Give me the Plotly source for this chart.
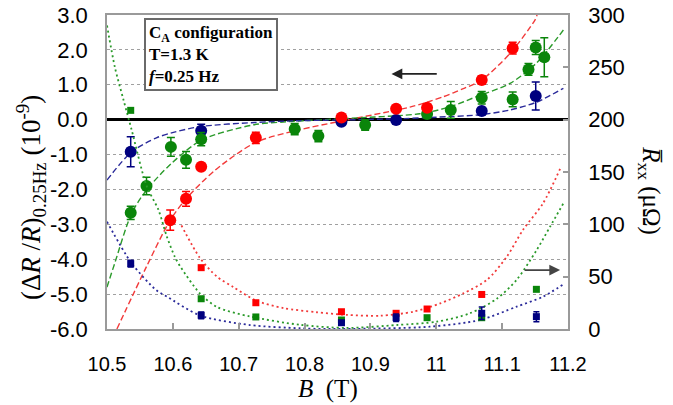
import plotly.graph_objects as go

# ---------------- data ----------------
# Left axis: (dR/R)_0.25Hz  [1e-9], circles with error bars
B_red_c = [10.596, 10.620, 10.643, 10.726, 10.856, 10.939, 10.986, 11.069, 11.116]
dRR_red = [-2.88, -2.27, -1.35, -0.52, 0.06, 0.31, 0.34, 1.14, 2.05]
err_red = [0.29, 0.21, 0.05, 0.16, 0.05, 0.05, 0.05, 0.12, 0.17]

B_green_c = [10.536, 10.560, 10.597, 10.620, 10.643, 10.785, 10.821, 10.892,
             10.986, 11.022, 11.069, 11.116, 11.140, 11.151, 11.164]
dRR_green = [-2.67, -1.90, -0.78, -1.15, -0.56, -0.27, -0.47, -0.15,
             0.16, 0.28, 0.63, 0.58, 1.44, 2.07, 1.79]
err_green = [0.19, 0.25, 0.27, 0.24, 0.19, 0.16, 0.16, 0.15,
             0.05, 0.24, 0.18, 0.21, 0.17, 0.20, 0.56]

B_navy_c = [10.536, 10.643, 10.856, 10.939, 11.069, 11.151]
dRR_navy = [-0.92, -0.32, -0.06, -0.01, 0.25, 0.68]
err_navy = [0.43, 0.19, 0.05, 0.05, 0.08, 0.40]

# Right axis: mean Rxx [uOhm], squares
B_red_s = [10.643, 10.726, 10.856, 10.939, 10.986, 11.069]
Rxx_red = [58.6, 25.1, 16.5, 15.0, 19.1, 33.0]
B_green_s = [10.536, 10.643, 10.726, 10.856, 10.986, 11.069, 11.152]
Rxx_green = [208.9, 28.9, 11.5, 8.6, 10.8, 10.8, 37.9]
B_navy_s = [10.536, 10.643, 10.856, 10.939, 11.069, 11.152]
Rxx_navy = [62.4, 13.1, 6.0, 10.8, 15.0, 11.8]
err_navy_s = [3.2, 3.2, 2.0, 3.6, 5.9, 4.8]

# Curves (dashed: left axis, dotted: right axis)
Bc_red_dash = [10.515, 10.560, 10.596, 10.620, 10.664, 10.726, 10.790, 10.856,
               10.920, 10.960, 10.986, 11.011, 11.040, 11.069, 11.112, 11.150, 11.153]
vc_red_dash = [-6.0, -4.21, -2.88, -2.27, -1.45, -0.65, -0.30, -0.04,
               0.20, 0.36, 0.50, 0.66, 0.88, 1.14, 1.90, 2.86, 3.0]

Bc_green_dash = [10.500, 10.512, 10.5375, 10.560, 10.598, 10.644, 10.722, 10.773,
                 10.869, 10.975, 11.021, 11.061, 11.112, 11.152, 11.193]
vc_green_dash = [-4.80, -4.10, -2.68, -2.02, -1.25, -0.58, -0.15, -0.06,
                 0.04, 0.17, 0.37, 0.66, 1.04, 1.62, 2.57]

Bc_navy_dash = [10.500, 10.5375, 10.575, 10.598, 10.641, 10.725, 10.790, 10.850,
                10.950, 11.000, 11.066, 11.110, 11.152, 11.193]
vc_navy_dash = [-1.73, -0.92, -0.52, -0.38, -0.20, -0.08, -0.03, -0.01,
                0.03, 0.07, 0.14, 0.27, 0.50, 0.90]

Bc_red_dot = [10.613, 10.641, 10.667, 10.692, 10.727, 10.768, 10.818, 10.864,
              10.915, 10.965, 11.006, 11.041, 11.077, 11.107, 11.132, 11.162, 11.188]
rc_red_dot = [99, 68, 50, 40, 27, 20, 16, 13.5,
              12.7, 16.5, 24.5, 34, 47, 69, 95, 120, 153]

Bc_green_dot = [10.500, 10.512, 10.525, 10.5375, 10.560, 10.578, 10.591, 10.603,
                10.611, 10.641, 10.667, 10.717, 10.793, 10.864, 10.940, 11.001,
                11.051, 11.092, 11.122, 11.152, 11.173, 11.193]
rc_green_dot = [290, 250, 219, 190, 137, 114, 88, 69,
                60, 34, 21, 12, 4, 1, 3.8, 7,
                15, 29, 47, 75, 98, 120]

Bc_navy_dot = [10.500, 10.5375, 10.575, 10.591, 10.641, 10.717, 10.793, 10.839,
               10.990, 11.066, 11.122, 11.162, 11.193]
rc_navy_dot = [102.5, 62.8, 37, 31, 13, 3.8, 0.7, 0,
               2.2, 8.6, 21.3, 30.9, 42.7]

x_ticks = [10.5, 10.6, 10.7, 10.8, 10.9, 11.0, 11.1, 11.2]
x_ticktext = ["10.5", "10.6", "10.7", "10.8", "10.9", "11", "11.1", "11.2"]
yl_ticks = [-6, -5, -4, -3, -2, -1, 0, 1, 2, 3]
yl_ticktext = ["-6.0", "-5.0", "-4.0", "-3.0", "-2.0", "-1.0", "0.0", "1.0", "2.0", "3.0"]
yr_ticks = [0, 50, 100, 150, 200, 250, 300]
yr_ticktext = ["0", "50", "100", "150", "200", "250", "300"]

# ---------------- styling ----------------
RED, GREEN, NAVY = "#ff0000", "#0a850a", "#00007f"
RED_L, GREEN_L, NAVY_L = "#f23a3a", "#2a9a2a", "#2a2a9a"
DASH = "6px,3px"
DOT = "2px,3px"

fig = go.Figure()

# dotted curves (right axis)
for Bx, ry, col in [(Bc_red_dot, rc_red_dot, RED_L),
                    (Bc_green_dot, rc_green_dot, GREEN_L),
                    (Bc_navy_dot, rc_navy_dot, NAVY_L)]:
    fig.add_trace(go.Scatter(x=Bx, y=ry, mode="lines", yaxis="y2",
                             line=dict(color=col, width=1.8, dash=DOT, shape="spline", smoothing=0.8),
                             hoverinfo="skip", showlegend=False))

# dashed curves (left axis)
for Bx, vy, col in [(Bc_red_dash, vc_red_dash, RED_L),
                    (Bc_green_dash, vc_green_dash, GREEN_L),
                    (Bc_navy_dash, vc_navy_dash, NAVY_L)]:
    fig.add_trace(go.Scatter(x=Bx, y=vy, mode="lines",
                             line=dict(color=col, width=1.4, dash=DASH, shape="spline", smoothing=0.8),
                             hoverinfo="skip", showlegend=False))

# squares (right axis)
fig.add_trace(go.Scatter(x=B_red_s, y=Rxx_red, mode="markers", yaxis="y2",
                         marker=dict(symbol="square", size=7, color=RED), showlegend=False))
fig.add_trace(go.Scatter(x=B_green_s, y=Rxx_green, mode="markers", yaxis="y2",
                         marker=dict(symbol="square", size=7, color=GREEN), showlegend=False))
fig.add_trace(go.Scatter(x=B_navy_s, y=Rxx_navy, mode="markers", yaxis="y2",
                         marker=dict(symbol="square", size=7, color=NAVY),
                         error_y=dict(type="data", array=err_navy_s, color=NAVY, thickness=1.5, width=3),
                         showlegend=False))

# circles (left axis)
for Bx, vy, ey, col in [(B_navy_c, dRR_navy, err_navy, NAVY),
                        (B_green_c, dRR_green, err_green, GREEN),
                        (B_red_c, dRR_red, err_red, RED)]:
    fig.add_trace(go.Scatter(x=Bx, y=vy, mode="markers",
                             marker=dict(symbol="circle", size=12, color=col),
                             error_y=dict(type="data", array=ey, color=col, thickness=1.5, width=4),
                             showlegend=False))

YTICKFONT = dict(family="Liberation Sans, Arial, sans-serif", size=22, color="black")
XTICKFONT = dict(family="Liberation Sans, Arial, sans-serif", size=20, color="black")
SERIF = "Liberation Serif, Times New Roman, serif"
AXC = "#9a9a9a"

fig.update_layout(
    width=673, height=405, autosize=False,
    margin=dict(l=107, r=105, t=15, b=76),
    plot_bgcolor="white", paper_bgcolor="white",
    showlegend=False,
    xaxis=dict(range=[10.5, 11.2], tickvals=x_ticks, ticktext=x_ticktext,
               ticks="inside", ticklen=6, tickcolor=AXC, tickwidth=1.5,
               showline=True, linecolor=AXC, linewidth=1.5, mirror=True,
               showgrid=False, zeroline=False, tickfont=XTICKFONT,
               ticklabelstandoff=16, automargin=False),
    yaxis=dict(range=[-6, 3], tickvals=yl_ticks, ticktext=yl_ticktext,
               ticks="", showline=True, linecolor=AXC, linewidth=1.5,
               showgrid=True, gridcolor="#a0a0a0", gridwidth=1, griddash="dot",
               zeroline=True, zerolinecolor="black", zerolinewidth=2.5,
               tickfont=YTICKFONT, ticklabelstandoff=13, automargin=False),
    yaxis2=dict(range=[0, 300], tickvals=yr_ticks, ticktext=yr_ticktext,
                overlaying="y", side="right", ticks="inside", ticklen=5,
                tickcolor=AXC, tickwidth=1.5, showline=True, linecolor=AXC, linewidth=1.5,
                showgrid=False, zeroline=False, tickfont=YTICKFONT, ticklabelstandoff=14,
                automargin=False),
)

annotations = [
    # info box
    dict(xref="paper", yref="paper", x=0.080, y=0.99, xanchor="left", yanchor="top",
         text="<b>C<sub>A</sub> configuration<br>T=1.3 K<br><i>f</i>=0.25 Hz</b>",
         align="left", showarrow=False,
         font=dict(family=SERIF, size=17, color="black"),
         bgcolor="white", bordercolor="#6a6a6a", borderwidth=2, borderpad=3),
    # axis titles
    dict(xref="paper", yref="paper", x=0.48, y=-0.19, xanchor="center", yanchor="middle",
         text="<i>B</i>  (T)", showarrow=False,
         font=dict(family=SERIF, size=25, color="black")),
    dict(xref="paper", yref="paper", x=-0.165, y=0.42, xanchor="center", yanchor="middle",
         text="(Δ<i>R</i> /<i>R</i>)<sub>0.25Hz</sub> (10<sup>-9</sup>)", textangle=-90,
         showarrow=False, font=dict(family=SERIF, size=27, color="black")),
    dict(xref="paper", yref="paper", x=1.177, y=0.44, xanchor="center", yanchor="middle",
         text="<i>R\u0305</i><sub>xx</sub> (μΩ)",
         textangle=90, showarrow=False, font=dict(family=SERIF, size=25, color="black")),
    # arrows
    dict(xref="x", yref="y", axref="x", ayref="y", x=10.932, y=1.31, ax=11.003, ay=1.31,
         text="", showarrow=True, arrowhead=2, arrowsize=1.2, arrowwidth=1.8, arrowcolor="#222"),
    dict(xref="x", yref="y", axref="x", ayref="y", x=11.188, y=-4.31, ax=11.132, ay=-4.31,
         text="", showarrow=True, arrowhead=2, arrowsize=1.2, arrowwidth=1.8, arrowcolor="#444"),
]
fig.update_layout(annotations=annotations)

fig.write_html("out.html", config={"displayModeBar": False},
               post_script="document.body.style.margin='0';")
